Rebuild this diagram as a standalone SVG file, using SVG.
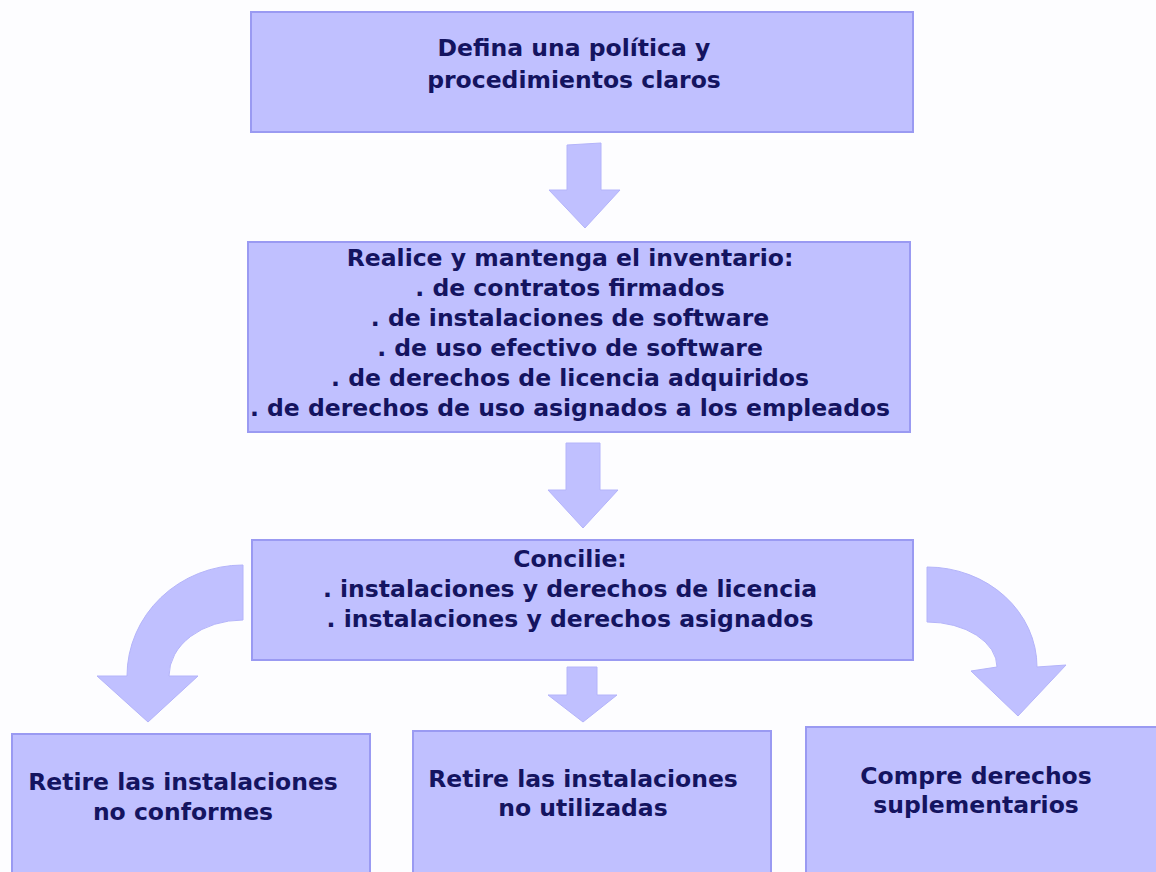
<svg xmlns="http://www.w3.org/2000/svg" width="1156" height="872" viewBox="0 0 1156 872">
<style>
.box{fill:#c0c0ff;stroke:#9a9af2;stroke-width:2}
.arr{fill:#c0c0ff;stroke:#b4b4fa;stroke-width:1}
text{font-family:"DejaVu Sans","Verdana",sans-serif;font-weight:bold;font-size:23.5px;fill:#141460;text-anchor:middle}
</style>
<rect width="1156" height="872" fill="#fdfdff"/>
<g id="connectors">
<polygon class="arr" points="567,145 601,143 601,190 620,190 585,228 549,190 567,190"/>
<polygon class="arr" points="566,443 600,443 600,490 618,490 583,528 548,490 566,490"/>
<polygon class="arr" points="567,667 597,667 597,695 617,695 583,722 548,695 567,695"/>
<path class="arr" d="M243,565 A116,111 0 0 0 127,676 L97,676 L148,722 L198,676 L169,676 A74,56 0 0 1 243,620 Z"/>
<path class="arr" d="M927,567 A110,100 0 0 1 1037,667 L1066,665 L1018,716 L971,671 L997,667 A70,45 0 0 0 927,622 Z"/>
</g>
<g id="n1">
<rect class="box" x="251" y="12" width="662" height="120"/>
<text x="574" y="56">Defina una política y</text>
<text x="574" y="88">procedimientos claros</text>
</g>
<g id="n2">
<rect class="box" x="248" y="242" width="662" height="190"/>
<text x="570" y="266">Realice y mantenga el inventario:</text>
<text x="570" y="296">. de contratos firmados</text>
<text x="570" y="326">. de instalaciones de software</text>
<text x="570" y="356">. de uso efectivo de software</text>
<text x="570" y="386">. de derechos de licencia adquiridos</text>
<text x="570" y="416">. de derechos de uso asignados a los empleados</text>
</g>
<g id="n3">
<rect class="box" x="252" y="540" width="661" height="120"/>
<text x="570" y="567">Concilie:</text>
<text x="570" y="597">. instalaciones y derechos de licencia</text>
<text x="570" y="627">. instalaciones y derechos asignados</text>
</g>
<g id="n4">
<rect class="box" x="12" y="734" width="358" height="150"/>
<text x="183" y="790">Retire las instalaciones</text>
<text x="183" y="820">no conformes</text>
</g>
<g id="n5">
<rect class="box" x="413" y="731" width="358" height="150"/>
<text x="583" y="787">Retire las instalaciones</text>
<text x="583" y="816">no utilizadas</text>
</g>
<g id="n6">
<rect class="box" x="806" y="727" width="360" height="150"/>
<text x="976" y="784">Compre derechos</text>
<text x="976" y="813">suplementarios</text>
</g>
</svg>
